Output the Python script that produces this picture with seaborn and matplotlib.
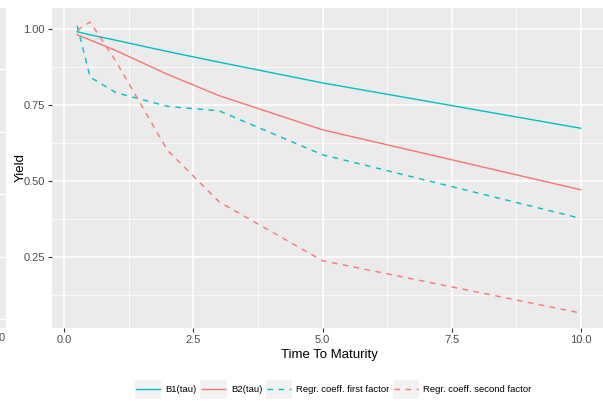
"""
Factor loadings vs regression coefficients
==========================================
Recreates the ggplot-style yield loading chart with seaborn.
"""

import numpy as np
import pandas as pd
import matplotlib
matplotlib.use('Agg')
import matplotlib.pyplot as plt
import seaborn as sns
from matplotlib.legend_handler import HandlerLine2D
from matplotlib.patches import Rectangle
from matplotlib.ticker import MultipleLocator

# -------------------------------------------------------
# Data
# -------------------------------------------------------
tau = [0.25, 0.5, 1, 2, 3, 5, 10]
b1_tau = [0.990, 0.980, 0.962, 0.925, 0.890, 0.822, 0.673]
b2_tau = [0.980, 0.963, 0.928, 0.850, 0.780, 0.668, 0.471]
coef_first = [1.010, 0.841, 0.790, 0.745, 0.730, 0.586, 0.377]
coef_second = [0.995, 1.022, 0.893, 0.600, 0.431, 0.238, 0.066]

series_names = ["B1(tau)", "B2(tau)", "Regr. coeff. first factor", "Regr. coeff. second factor"]

TEAL = "#00BFC4"
SALMON = "#F8766D"
PANEL = "#EBEBEB"

df = pd.concat([
    pd.DataFrame({"tau": tau, "value": vals, "series": name})
    for name, vals in zip(series_names, [b1_tau, b2_tau, coef_first, coef_second])
], ignore_index=True)

palette = dict(zip(series_names, [TEAL, SALMON, TEAL, SALMON]))
dashes = dict(zip(series_names, ["", "", (4, 4), (4, 4)]))

plt.rcParams['font.family'] = ['Liberation Sans', 'DejaVu Sans']


# legend key with grey box behind the line, like ggplot
class KeyHandler(HandlerLine2D):
    def create_artists(self, legend, orig_handle, xdescent, ydescent,
                       width, height, fontsize, trans):
        artists = super().create_artists(legend, orig_handle, xdescent, ydescent,
                                         width, height, fontsize, trans)
        pad = 4.5
        rect = Rectangle((-xdescent - 1, -ydescent - pad), width + 2, height + 2 * pad,
                         facecolor="#F2F2F2", edgecolor="none", transform=trans)
        return [rect] + list(artists)


W, H = 603, 403
fig = plt.figure(figsize=(W / 100, H / 100), dpi=100)

# cut-off neighbour panel on the far left
strip = fig.add_axes([0, 1 - 328 / H, 6 / W, 320 / H])
strip.set_facecolor(PANEL)
strip.set_ylim(0, 320)
for yy in [9, 71, 134, 196, 259]:
    strip.axhline(yy, color="white", lw=0.9)
strip.set_xticks([])
strip.set_yticks([])
for s in strip.spines.values():
    s.set_visible(False)
fig.text(4.5 / W, 1 - 338 / H, "0", ha="right", va="center", fontsize=8, color="#4D4D4D")

# main panel (extends slightly past the right edge)
ax = fig.add_axes([52 / W, 1 - 328 / H, 554 / W, 320 / H])
ax.set_facecolor(PANEL)

sns.lineplot(data=df, x="tau", y="value", hue="series", style="series",
             palette=palette, dashes=dashes, linewidth=1.0, ax=ax, zorder=3)

ax.set_xlim(-0.2375, 10.4875)
ax.set_ylim(0.017, 1.068)
ax.xaxis.set_major_locator(MultipleLocator(2.5))
ax.xaxis.set_minor_locator(MultipleLocator(1.25))
ax.yaxis.set_major_locator(MultipleLocator(0.25))
ax.yaxis.set_minor_locator(MultipleLocator(0.125))
ax.set_yticks([0.25, 0.5, 0.75, 1.0])
ax.set_xticklabels([f"{v:.1f}" for v in ax.get_xticks()])
ax.set_yticklabels([f"{v:.2f}" for v in ax.get_yticks()])
ax.grid(which="major", color="white", lw=1.1, zorder=0)
ax.grid(which="minor", color="white", lw=0.55, zorder=0)
ax.set_axisbelow(True)
ax.tick_params(which="major", length=3, width=0.8, color="#333333",
               labelsize=8, labelcolor="#4D4D4D", pad=2)
ax.tick_params(which="minor", length=0)
for s in ax.spines.values():
    s.set_visible(False)

ax.set_xlabel("Time To Maturity", fontsize=9.5, color="black", labelpad=3)
ax.set_ylabel("Yield", fontsize=9.5, color="black")
ax.yaxis.set_label_coords(-0.046, 0.5)

# legend at the bottom
handles, labels = ax.get_legend_handles_labels()
ax.get_legend().remove()
leg = fig.legend(handles, labels, loc="center", bbox_to_anchor=(334 / W, 1 - 390 / H),
                 ncol=4, frameon=False, fontsize=6.8, handlelength=2.5,
                 handletextpad=0.6, columnspacing=0.5,
                 handler_map={h: KeyHandler() for h in handles})

fig.savefig("out.png", dpi=100)
plt.close(fig)
